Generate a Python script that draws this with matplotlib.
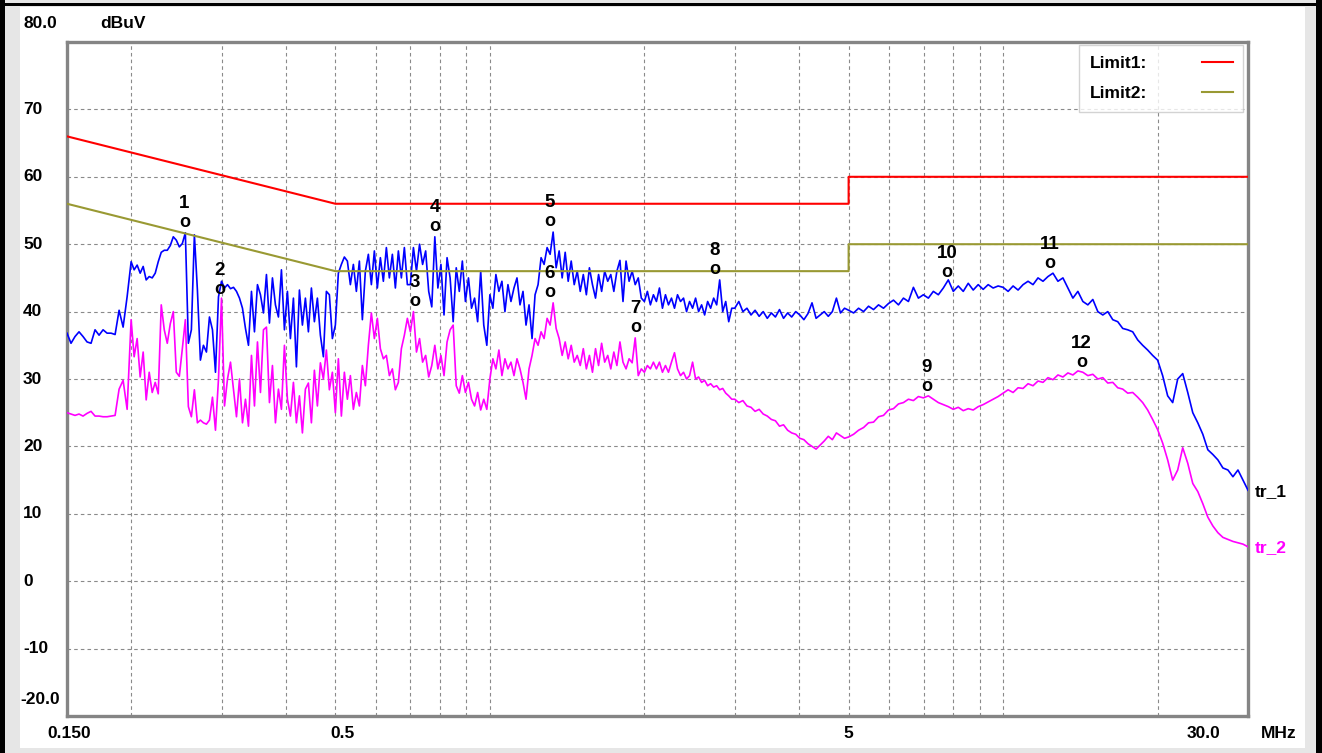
import numpy as np
import matplotlib
matplotlib.use('Agg')
import matplotlib.pyplot as plt
from matplotlib.patches import Rectangle
from matplotlib.transforms import Affine2D
from matplotlib.ticker import LogLocator, NullFormatter, FixedLocator

plt.rcParams['font.family'] = ['Liberation Sans', 'DejaVu Sans']
plt.rcParams['font.weight'] = 'bold'

# ---------------- data ----------------
seg_edges = [0.15, 0.2, 0.3, 0.5, 0.7, 1.0, 1.5, 2.0, 3.0, 5.0, 10.0, 20.0, 30.0]

# tr_1 (blue, QP) readings per frequency segment
tr1_a = [36.8, 35.3, 36.3, 37.0, 36.3, 35.5, 35.3, 37.3, 36.5, 37.3, 36.8, 36.8, 36.6, 40.2, 37.7, 42.2]
tr1_b = [47.4, 46.2, 46.9, 45.7, 46.7, 44.7, 45.2, 45.0, 45.7, 47.4, 48.8, 49.1, 49.1, 49.8, 51.1,
         50.6, 49.6, 50.1, 51.7, 35.3, 37.3, 51.4, 43.2, 32.8, 35.0, 34.0, 39.2, 37.3, 31.0, 42.2]
tr1_c = [44.5, 43.5, 44.0, 43.4, 43.6, 43.0, 42.0, 40.5, 37.5, 35.0, 43.0, 37.0, 44.0, 42.5, 39.8,
         45.5, 38.3, 45.0, 41.0, 39.2, 46.2, 37.3, 43.0, 36.0, 42.0, 31.8, 43.2, 38.0, 42.0, 37.0,
         43.5, 38.5, 42.0, 36.5, 33.3, 43.0, 42.5, 36.0]
tr1_d = [38.0, 45.7, 47.0, 48.1, 47.5, 44.0, 47.0, 43.0, 47.5, 38.8, 46.0, 48.5, 44.0, 49.0, 43.5,
         48.0, 44.5, 49.5, 45.0, 48.5, 43.5, 49.0, 45.0, 49.5, 44.0]
tr1_e = [44.0, 49.5, 46.0, 50.0, 47.0, 49.0, 43.0, 40.7, 51.1, 43.5, 47.0, 39.5, 48.0, 45.0, 38.5,
         46.5, 43.0, 47.5, 41.5, 45.0, 40.5, 42.0, 38.5, 46.0, 38.0, 35.0]
tr1_f = [42.5, 40.5, 45.5, 43.0, 44.5, 40.0, 44.0, 41.5, 43.5, 45.0, 41.0, 43.0, 38.0, 41.0, 36.0,
         42.5, 44.0, 48.0, 47.0, 49.5, 48.5, 51.8, 46.5, 49.0, 45.0, 48.8, 44.5, 47.5, 44.0, 46.0]
tr1_g = [43.0, 45.5, 42.5, 46.5, 44.0, 42.0, 45.5, 43.0, 46.0, 44.5, 45.5, 43.0, 46.0, 47.6, 41.5,
         47.5, 44.5, 46.0, 44.0, 45.0, 42.0]
tr1_h = [41.5, 43.0, 41.0, 42.5, 41.5, 43.5, 40.5, 42.5, 41.0, 42.0, 40.5, 42.5, 41.5, 42.0, 40.0,
         41.5, 40.5, 42.0, 40.0, 41.0, 39.5, 41.5, 40.5, 42.0, 41.0, 44.7, 40.0, 41.5, 38.5, 40.5]
tr1_i = [40.5, 41.5, 40.0, 40.5, 39.5, 40.2, 39.3, 40.0, 39.0, 39.8, 39.2, 40.3, 39.0, 39.8, 39.2,
         40.0, 39.5, 38.8, 39.7, 41.3, 39.0, 39.5, 40.0, 39.3, 40.0, 42.0, 39.8, 40.5]
tr1_j = [40.2, 39.8, 40.5, 40.0, 40.8, 40.3, 41.0, 40.5, 41.2, 41.7, 41.0, 42.0, 41.5, 43.6, 42.0,
         42.5, 42.0, 43.0, 42.5, 43.5, 44.7, 43.0, 43.8, 43.0, 44.2, 43.2, 44.0, 43.3, 44.0, 43.5, 43.8]
tr1_k = [43.6, 43.0, 43.8, 43.2, 44.0, 44.5, 44.0, 45.0, 44.5, 45.2, 45.7, 44.5, 45.0, 43.5, 42.0,
         43.0, 41.5, 41.0, 41.8, 40.0, 39.5, 40.0, 38.8, 38.5, 37.5, 37.3, 37.0, 35.8, 35.0, 34.3, 33.5]
tr1_l = [32.8, 30.5, 27.5, 26.5, 30.0, 30.8, 28.0, 25.0, 23.5, 21.8, 19.5, 18.8, 18.0, 16.8, 16.5,
         15.5, 16.5, 15.0, 13.5]

# tr_2 (magenta, AV) readings per frequency segment
tr2_a = [25.0, 24.8, 24.6, 24.8, 24.5, 24.9, 25.2, 24.5, 24.5, 24.4, 24.4, 24.5, 24.6, 28.5, 29.8, 25.5]
tr2_b = [38.8, 33.3, 36.0, 30.3, 34.0, 26.9, 31.0, 28.0, 29.5, 27.8, 41.0, 37.3, 35.3, 38.2, 40.0,
         31.0, 30.4, 34.5, 38.8, 25.9, 24.4, 28.4, 23.5, 23.9, 23.5, 23.3, 23.9, 27.3, 22.4, 30.0]
tr2_c = [42.0, 26.0, 30.0, 32.5, 28.5, 24.4, 30.0, 23.5, 27.0, 23.0, 33.5, 26.0, 35.5, 28.0, 37.3,
         37.7, 26.5, 32.0, 23.5, 28.5, 25.5, 35.0, 27.0, 24.5, 29.5, 23.5, 27.5, 22.0, 28.5, 29.4,
         23.5, 31.3, 26.0, 32.4, 30.0, 34.3, 28.4, 31.0]
tr2_d = [25.0, 33.0, 24.5, 31.0, 27.0, 30.5, 25.5, 28.0, 26.0, 32.0, 29.0, 35.0, 39.8, 36.0, 39.0,
         34.5, 33.0, 33.5, 30.5, 31.5, 28.4, 29.5, 34.5, 36.5, 39.0]
tr2_e = [37.0, 40.0, 34.0, 36.0, 32.5, 33.5, 30.3, 32.0, 35.0, 31.5, 33.5, 30.5, 35.5, 37.3, 38.0,
         29.0, 27.9, 30.5, 28.0, 29.5, 27.0, 26.0, 28.0, 25.4, 27.0, 25.5]
tr2_f = [30.0, 33.0, 31.5, 34.3, 30.5, 33.0, 31.5, 32.5, 30.5, 33.0, 31.5, 29.5, 27.0, 31.5, 33.5,
         36.0, 35.0, 37.0, 36.0, 39.0, 38.0, 41.3, 37.5, 36.0, 33.5, 35.5, 33.0, 35.0, 32.5, 33.5]
tr2_g = [32.0, 34.5, 31.5, 33.5, 31.0, 34.5, 32.0, 35.3, 32.5, 33.5, 31.5, 34.0, 32.0, 35.5, 32.5,
         31.5, 33.0, 32.4, 36.1, 30.5, 31.5]
tr2_h = [31.0, 32.0, 31.5, 32.5, 31.5, 32.5, 31.0, 32.0, 31.0, 32.5, 33.9, 31.5, 30.5, 31.0, 30.0,
         30.5, 32.5, 30.0, 30.3, 29.5, 29.8, 29.0, 29.3, 28.8, 29.0, 28.4, 28.6, 27.9, 27.5, 27.0]
tr2_i = [27.0, 26.5, 26.8, 26.0, 25.8, 25.2, 25.5, 24.8, 24.5, 24.0, 23.8, 23.0, 23.2, 22.4, 22.0,
         21.8, 21.2, 21.0, 20.4, 20.0, 19.6, 20.2, 20.8, 21.5, 21.0, 22.0, 21.6, 21.2]
tr2_j = [21.4, 21.8, 22.4, 22.8, 23.5, 23.6, 24.4, 24.6, 25.4, 25.6, 26.3, 26.5, 27.0, 26.8, 27.4,
         27.2, 27.5, 27.0, 26.5, 26.2, 25.9, 25.5, 25.8, 25.3, 25.6, 25.4, 25.9, 26.2, 26.6, 27.0, 27.4]
tr2_k = [27.9, 28.4, 28.0, 28.7, 28.6, 29.3, 29.0, 29.7, 29.5, 30.2, 29.9, 30.6, 30.3, 30.9, 30.6,
         31.2, 31.0, 30.5, 30.7, 30.0, 30.2, 29.4, 29.5, 28.7, 28.5, 27.9, 28.0, 27.3, 26.5, 25.4, 24.0]
tr2_l = [22.5, 20.5, 18.0, 15.0, 16.5, 19.8, 17.5, 14.5, 13.3, 11.5, 9.5, 8.2, 7.2, 6.5, 6.2,
         5.9, 5.7, 5.5, 5.1]

# limit lines (MHz, dBuV)
limit_freq = [0.15, 0.5, 5.0, 5.0, 30.0]
limit1_level = [66.0, 56.0, 56.0, 60.0, 60.0]
limit2_level = [56.0, 46.0, 46.0, 50.0, 50.0]

# peak markers
marker_ids = ['1', '2', '3', '4', '5', '6', '7', '8', '9', '10', '11', '12']
marker_freq = [0.254, 0.298, 0.713, 0.78, 1.31, 1.31, 1.92, 2.74, 7.1, 7.77, 12.3, 14.2]
marker_level = [51.7, 41.8, 40.0, 51.2, 51.9, 41.3, 36.1, 44.7, 27.4, 44.3, 45.7, 31.0]

y_ticks = [70, 60, 50, 40, 30, 20, 10, 0, -10]
x_tick_labels = ['0.150', '0.5', '5', '30.0']


def build(segs):
    fs_, vs = [], []
    for i, vals in enumerate(segs):
        last = (i == len(segs) - 1)
        fs_.append(np.geomspace(seg_edges[i], seg_edges[i + 1], len(vals), endpoint=last))
        vs.append(np.asarray(vals, dtype=float))
    return np.concatenate(fs_), np.concatenate(vs)


f1, v1 = build([tr1_a, tr1_b, tr1_c, tr1_d, tr1_e, tr1_f, tr1_g, tr1_h, tr1_i, tr1_j, tr1_k, tr1_l])
f2, v2 = build([tr2_a, tr2_b, tr2_c, tr2_d, tr2_e, tr2_f, tr2_g, tr2_h, tr2_i, tr2_j, tr2_k, tr2_l])

# ---------------- figure ----------------
W, H = 1322, 753
fig = plt.figure(figsize=(W / 100, H / 100), dpi=100, facecolor='#e6e6e6')
pix = Affine2D().scale(1.0 / W, 1.0 / H) + fig.transFigure


def prect(x0, ytop, x1, ybot, **kw):
    fig.patches.append(Rectangle((x0, H - ybot), x1 - x0, ybot - ytop, transform=pix,
                                 zorder=-10, **kw))


prect(20, 7, 1305, 748, facecolor='white', edgecolor='none')
prect(0, 0, 5, H, facecolor='black', edgecolor='none')
prect(1316, 0, W, H, facecolor='black', edgecolor='none')
prect(0, 3, W, 6, facecolor='black', edgecolor='none')

ax = fig.add_axes([67 / W, (H - 716) / H, (1248 - 67) / W, (716 - 42) / H])
ax.set_zorder(1)
ax.set_facecolor('white')
ax.set_xscale('log')
ax.set_xlim(0.15, 30)
ax.set_ylim(-20, 80)

ax.xaxis.set_major_locator(LogLocator(base=10, subs=np.arange(1, 10)))
ax.xaxis.set_minor_locator(FixedLocator([]))
ax.xaxis.set_major_formatter(NullFormatter())
ax.xaxis.set_minor_formatter(NullFormatter())
ax.set_yticks(y_ticks)
ax.set_yticklabels([])
ax.tick_params(length=0)
ax.grid(True, which='major', color='#8a8a8a', linestyle=(0, (3.2, 2.8)), linewidth=0.8)
for s in ax.spines.values():
    s.set_color('#858585')
    s.set_linewidth(2.4)

ax.plot(f1, v1, color='#0000ff', lw=1.2, zorder=3)
ax.plot(f2, v2, color='#ff00ff', lw=1.2, zorder=3)
ax.plot(limit_freq, limit1_level, color='#ff0000', lw=1.5, zorder=4, label='Limit1:')
ax.plot(limit_freq, limit2_level, color='#999933', lw=1.5, zorder=4, label='Limit2:')

fs = 12.5
for mid, mf, ml in zip(marker_ids, marker_freq, marker_level):
    ax.annotate('o', xy=(mf, ml), xytext=(0, 10), textcoords='offset pixels',
                ha='center', va='center', fontsize=fs + 0.5, fontweight='bold', zorder=6)
    ax.annotate(mid, xy=(mf, ml), xytext=(0, 29), textcoords='offset pixels',
                ha='center', va='center', fontsize=fs + 1, fontweight='bold', zorder=6)

ax.annotate('tr_1', xy=(f1[-1], v1[-1]), xytext=(7, -1), textcoords='offset pixels',
            ha='left', va='center', fontsize=fs, fontweight='bold', color='black',
            annotation_clip=False)
ax.annotate('tr_2', xy=(f2[-1], v2[-1]), xytext=(7, -1), textcoords='offset pixels',
            ha='left', va='center', fontsize=fs, fontweight='bold', color='#ff00ff',
            annotation_clip=False)

# y labels
ytr = ax.get_yaxis_transform()
xl = (23 - 67) / (1248 - 67)
for t in y_ticks:
    ax.text(xl, t, str(t), transform=ytr, ha='left', va='center', fontsize=fs, clip_on=False)
ax.text(xl, 82.8, '80.0', transform=ytr, ha='left', va='center', fontsize=fs, clip_on=False)
ax.text((100 - 67) / (1248 - 67), 82.8, 'dBuV', transform=ytr, ha='left', va='center',
        fontsize=fs, clip_on=False)
ax.text(xl - 0.002, -17.6, '-20.0', transform=ytr, ha='left', va='center', fontsize=fs, clip_on=False)

# x labels
xtr = ax.get_xaxis_transform()
ylab = -(733 - 716) / (716 - 42)
for lab, xf in zip(x_tick_labels, [0.1515, 0.516, 5.0, 24.6]):
    ax.text(xf, ylab, lab, transform=xtr, ha='center', va='center', fontsize=fs, clip_on=False)
ax.text(34.5, ylab, 'MHz', transform=xtr, ha='center', va='center', fontsize=fs, clip_on=False)

leg = ax.legend(loc='upper right', bbox_to_anchor=(0.9958, 0.9955), borderaxespad=0,
                markerfirst=False, frameon=True, fancybox=False, handlelength=1.75,
                handletextpad=3.2, labelspacing=0.9, borderpad=0.6,
                prop={'size': fs, 'weight': 'bold'})
leg.get_frame().set_edgecolor('#c8c8c8')
leg.get_frame().set_linewidth(1.0)
leg.set_zorder(7)

fig.savefig('out.png', dpi=100, facecolor=fig.get_facecolor())
